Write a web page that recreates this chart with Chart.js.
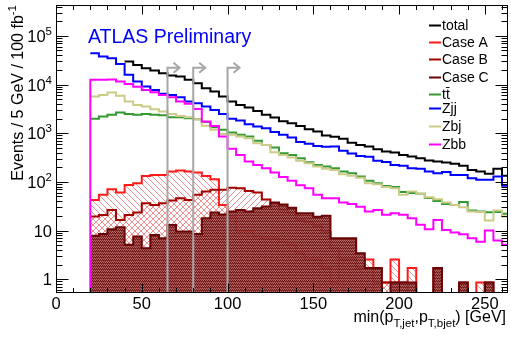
<!DOCTYPE html>
<html><head><meta charset="utf-8">
<script src="https://cdn.jsdelivr.net/npm/chart.js@4.4.0/dist/chart.umd.min.js"></script>
<style>html,body{margin:0;padding:0;background:#fff;}#wrap{width:511px;height:338px;}</style>
</head><body><div id="wrap"><canvas id="c" width="511" height="338"></canvas></div>
<script>
// ---------- data (events per 5 GeV bin, low edges 20..260 GeV) ----------
const BIN_WIDTH = 5;
const binLow = [20,25,30,35,40,45,50,55,60,65,70,75,80,85,90,95,100,105,110,115,120,125,130,135,140,
  145,150,155,160,165,170,175,180,185,190,195,200,205,210,215,220,225,230,235,240,245,250,255,260];
const lowBinsBelow20 = [0,5,10,15];
const zbbBelow20 = [0,0,0,0];

const total = [null,null,null,null,29600,25300,21600,19300,17100,15250,14550,12450,10650,8400,7160,5650,4460,3810,3360,2870,
  2380,2110,1760,1600,1410,1200,1080,900,840,764,638,574,535,465,419,399,358,330,306,273,261,249,234,213,176,163,146,185,133];
const zjj = [44000,37500,34700,26500,15800,11500,9060,7750,6420,6120,5490,4460,4130,3520,3010,2490,1970,1820,1530,1365,
  1265,1063,923,819,662,603,548,523,535,433,384,341,326,270,257,223,213,191,185,163,151,160,139,139,119,110,110,128,83];
const zbb = [12450,12450,12740,11480,10300,8940,7750,6890,6120,5490,4460,4000,3155,1730,1410,851,476,358,261,223,
  191,156,126,105,84.6,74,54,46,46,37.8,35.2,30.6,24.5,26.5,21,22.7,21,17.9,13.1,10.6,16.5,10.3,9.1,8.4,6.95,5.9,10,6.2,5.07];
const zbj = [5650,6120,6820,5840,4460,3810,3520,3110,2780,2490,2265,2130,1937,1413,1169,967,923,851,789,623,
  574,407,358,315,270,242,206,185,176,144,134,122,93.8,89.5,78.8,74.1,54,63,56.6,48.4,44,37.5,33.6,30.1,24.5,24.1,16,25.9,19.3];
const ttbar = [1967,2190,2377,2650,2490,2377,2490,2377,2322,2130,2130,2032,1937,1706,1327,1169,1038,923,851,695,
  574,506,388,358,306,254,223,206,191,163,151,128,105,93.8,82.6,78.8,62.2,59.3,56.6,46.8,40.6,35.2,33.6,38.7,25.9,24.7,23.6,24.1,22];
const caseA = [42.6,54,70.6,60.1,86.6,93.8,132.5,139,139,162.5,170,162.5,155,132.5,113.5,33.6,19.3,9.5,9.5,7.5,
  6.95,6.95,5.9,5.07,3.4,2.55,2.55,1.7,0.85,2.55,2.55,1.7,2.55,0,0.85,2.55,0,1.7,0,0,0,0,0,0,0,0.85,0,0,0];
const caseB = [19.3,20.9,26.5,16.5,20.9,23.4,36.4,33.6,36.4,41.2,46.2,42.6,54,63,68.4,68.4,75.2,74.1,65.2,60.7,
  43.6,35.2,26.5,23,16.5,15,12.4,9.4,4.25,2.55,2.55,1.7,1.7,0.85,0.85,0.85,0.85,0,0,0,1.7,0,0,0.85,0,0,0.85,0,0];
const caseC = [7.76,8.5,10.6,11.7,5.07,7.5,4.3,8.1,6.95,13,9.5,9.5,8.5,17.9,23.4,21.4,24.5,26.5,24.5,28.7,
  31,37.8,34.4,29.2,22.7,22.7,19.1,20,6.9,6.9,6.9,3.4,1.7,1.7,0,0.85,0.85,0.85,0,0,1.7,0,0,0.85,0,0,0.85,0,0];

const cutValues = [65, 80, 100];
const ARROW_TOP_VALUE = 2.2e4;
const xTickLabels = [0, 50, 100, 150, 200, 250];
const yTickExponents = [0, 1, 2, 3, 4, 5];

const X_MIN = 0, X_MAX = 263.5, Y_MIN = 0.52, Y_MAX = 4.3e5;
const FONT = '"Liberation Sans", Arial, Helvetica, sans-serif';

const COL = { total:'#000000', A:'#ff1a1a', B:'#a30000', C:'#6a0505', tt:'#339933', zjj:'#0000ff', zbj:'#cccc88', zbb:'#ff00ff' };

// ---------- helpers ----------
function histPoints(edges, vals) {
  const pts = [];
  let last = null;
  for (let i = 0; i < vals.length; i++) {
    if (vals[i] === null) continue;
    const v = vals[i] > 0 ? vals[i] : Y_MIN;
    pts.push({ x: edges[i], y: v });
    last = { x: edges[i] + BIN_WIDTH, y: v };
  }
  if (last) pts.push(last);
  return pts;
}
function hatch(color, dir, s, lw) {
  const c = document.createElement('canvas'); c.width = s; c.height = s;
  const g = c.getContext('2d'); g.strokeStyle = color; g.lineWidth = lw; g.beginPath();
  for (let k = -1; k <= 2; k++) {
    if (dir > 0) { g.moveTo(-1, k * s + 1); g.lineTo(s + 1, (k - 1) * s - 1); }
    else { g.moveTo(-1, k * s - 1); g.lineTo(s + 1, (k + 1) * s + 1); }
  }
  g.stroke();
  return g.createPattern(c, 'repeat');
}
function denseFill() {
  const c = document.createElement('canvas'); c.width = 2; c.height = 3;
  const g = c.getContext('2d');
  g.fillStyle = 'rgba(170,80,80,0.85)'; g.fillRect(0,0,2,3);
  g.fillStyle = 'rgba(105,20,20,0.95)'; g.fillRect(0,1,1,1); g.fillRect(1,2,1,1);
  g.fillStyle = 'rgba(135,45,45,0.9)'; g.fillRect(1,0,1,1); g.fillRect(0,2,1,1);
  return g.createPattern(c, 'repeat');
}

const zbbEdges = lowBinsBelow20.concat(binLow);
const zbbVals = zbbBelow20.concat(zbb);

function ds(label, edges, vals, color, order, extra) {
  return Object.assign({ label, data: histPoints(edges, vals), borderColor: color, borderWidth: 2,
    stepped: 'before', fill: false, pointRadius: 0, tension: 0, order }, extra || {});
}

const datasets = [
  ds('Case A', binLow, caseA, COL.A, 9, { fill: 'start', backgroundColor: hatch('rgba(245,100,100,0.7)', -1, 6, 1) }),
  ds('Case B', binLow, caseB, COL.B, 8, { fill: 'start', backgroundColor: hatch('rgba(225,95,95,0.7)', 1, 6, 1) }),
  ds('Case C', binLow, caseC, COL.C, 7, { fill: 'start', backgroundColor: denseFill() }),
  ds('total', binLow, total, COL.total, 5),
  ds('tt', binLow, ttbar, COL.tt, 4),
  ds('Zbj', binLow, zbj, COL.zbj, 3),
  ds('Zjj', binLow, zjj, COL.zjj, 2),
  ds('Zbb', zbbEdges, zbbVals, COL.zbb, 1)
];

const legendEntries = [
  { text: 'total', color: COL.total, y: 25 },
  { text: 'Case A', color: COL.A, y: 42 },
  { text: 'Case B', color: COL.B, y: 59 },
  { text: 'Case C', color: COL.C, y: 77 },
  { text: 't\u0074\u0304', color: COL.tt, y: 94 },
  { text: 'Zjj', color: COL.zjj, y: 108 },
  { text: 'Zbj', color: COL.zbj, y: 126 },
  { text: 'Zbb', color: COL.zbb, y: 144 }
];

const decor = {
  id: 'decor',
  afterDatasetsDraw(chart) {
    const { ctx, chartArea: a, scales: { x, y } } = chart;
    ctx.save();
    ctx.strokeStyle = '#a6a6a6'; ctx.lineWidth = 2;
    const ty = y.getPixelForValue(ARROW_TOP_VALUE);
    cutValues.forEach(v => {
      const px = x.getPixelForValue(v);
      ctx.beginPath(); ctx.moveTo(px, a.bottom); ctx.lineTo(px, ty); ctx.lineTo(px + 12, ty); ctx.stroke();
      ctx.beginPath(); ctx.moveTo(px + 6, ty - 5); ctx.lineTo(px + 12, ty); ctx.lineTo(px + 6, ty + 5); ctx.stroke();
    });
    ctx.restore();
  },
  afterDraw(chart) {
    const { ctx, chartArea: a, scales: { x, y } } = chart;
    const L = Math.round(a.left) + 0.5, R = Math.round(a.right) - 0.5, T = Math.round(a.top) + 0.5, B = Math.round(a.bottom) - 0.5;
    ctx.save();
    ctx.strokeStyle = '#000'; ctx.lineWidth = 1;
    ctx.strokeRect(L, T, R - L, B - T);
    ctx.beginPath();
    for (let e = -1; e <= 5; e++) for (let m = 1; m <= 9; m++) {
      const v = m * Math.pow(10, e);
      if (v < Y_MIN || v > Y_MAX) continue;
      const py = Math.round(y.getPixelForValue(v)) + 0.5;
      const len = m === 1 ? 12 : 6;
      ctx.moveTo(L, py); ctx.lineTo(L + len, py);
      ctx.moveTo(R, py); ctx.lineTo(R - len, py);
    }
    for (let v = 0; v <= X_MAX; v += 10) {
      const px = Math.round(x.getPixelForValue(v)) + 0.5;
      const len = v % 50 === 0 ? 9 : 4.5;
      ctx.moveTo(px, B); ctx.lineTo(px, B - len);
      ctx.moveTo(px, T); ctx.lineTo(px, T + len);
    }
    ctx.stroke();

    ctx.fillStyle = '#000';
    ctx.font = '16.5px ' + FONT; ctx.textAlign = 'center'; ctx.textBaseline = 'alphabetic';
    xTickLabels.forEach(v => ctx.fillText(String(v), x.getPixelForValue(v), a.bottom + 16));
    yTickExponents.forEach(e => {
      const py = y.getPixelForValue(Math.pow(10, e));
      const rx = a.left - 4;
      if (e <= 1) {
        ctx.font = '16.5px ' + FONT; ctx.textAlign = 'right';
        ctx.fillText(e === 0 ? '1' : '10', rx, py + 6);
      } else {
        ctx.font = '11.5px ' + FONT; ctx.textAlign = 'right';
        const ex = String(e);
        ctx.fillText(ex, rx, py - 1);
        const w = ctx.measureText(ex).width;
        ctx.font = '16.5px ' + FONT;
        ctx.fillText('10', rx - w, py + 6);
      }
    });
    const parts = [['min(p', 16, 0], ['T,jet', 11.5, 5], [',p', 16, 0], ['T,bjet', 11.5, 5], [') [GeV]', 16, 0]];
    let totalW = 0;
    parts.forEach(p => { ctx.font = p[1] + 'px ' + FONT; totalW += ctx.measureText(p[0]).width; });
    let cx = a.right - 2 - totalW; const by = 322;
    ctx.textAlign = 'left';
    parts.forEach(p => { ctx.font = p[1] + 'px ' + FONT; ctx.fillText(p[0], cx, by + p[2]); cx += ctx.measureText(p[0]).width; });
    ctx.save();
    const main = 'Events / 5 GeV / 100 fb', sup = '-1';
    ctx.font = '16px ' + FONT; const w1 = ctx.measureText(main).width;
    ctx.font = '11.5px ' + FONT; const w2 = ctx.measureText(sup).width;
    ctx.translate(23, a.top + w1 + w2);
    ctx.rotate(-Math.PI / 2);
    ctx.textAlign = 'left';
    ctx.font = '16px ' + FONT; ctx.fillText(main, 0, 0);
    ctx.font = '11.5px ' + FONT; ctx.fillText(sup, w1, -7);
    ctx.restore();
    ctx.fillStyle = '#0000ff'; ctx.font = '19.5px ' + FONT; ctx.textAlign = 'left';
    ctx.fillText('ATLAS Preliminary', 88, 43);
    ctx.font = '14px ' + FONT;
    legendEntries.forEach(en => {
      ctx.strokeStyle = en.color; ctx.lineWidth = 2;
      ctx.beginPath(); ctx.moveTo(429, en.y + 0.5); ctx.lineTo(441, en.y + 0.5); ctx.stroke();
      ctx.fillStyle = '#000'; ctx.textBaseline = 'middle';
      ctx.fillText(en.text, 442, en.y + 1);
    });
    ctx.restore();
  }
};

new Chart(document.getElementById('c'), {
  type: 'line',
  data: { datasets },
  options: {
    responsive: false, animation: false, devicePixelRatio: 1,
    layout: { padding: { left: 56, right: 3, top: 5, bottom: 45 } },
    plugins: { legend: { display: false }, tooltip: { enabled: false } },
    elements: { point: { radius: 0 } },
    scales: {
      x: { type: 'linear', min: X_MIN, max: X_MAX, display: false },
      y: { type: 'logarithmic', min: Y_MIN, max: Y_MAX, display: false }
    }
  },
  plugins: [decor]
});
</script>
</body></html>
